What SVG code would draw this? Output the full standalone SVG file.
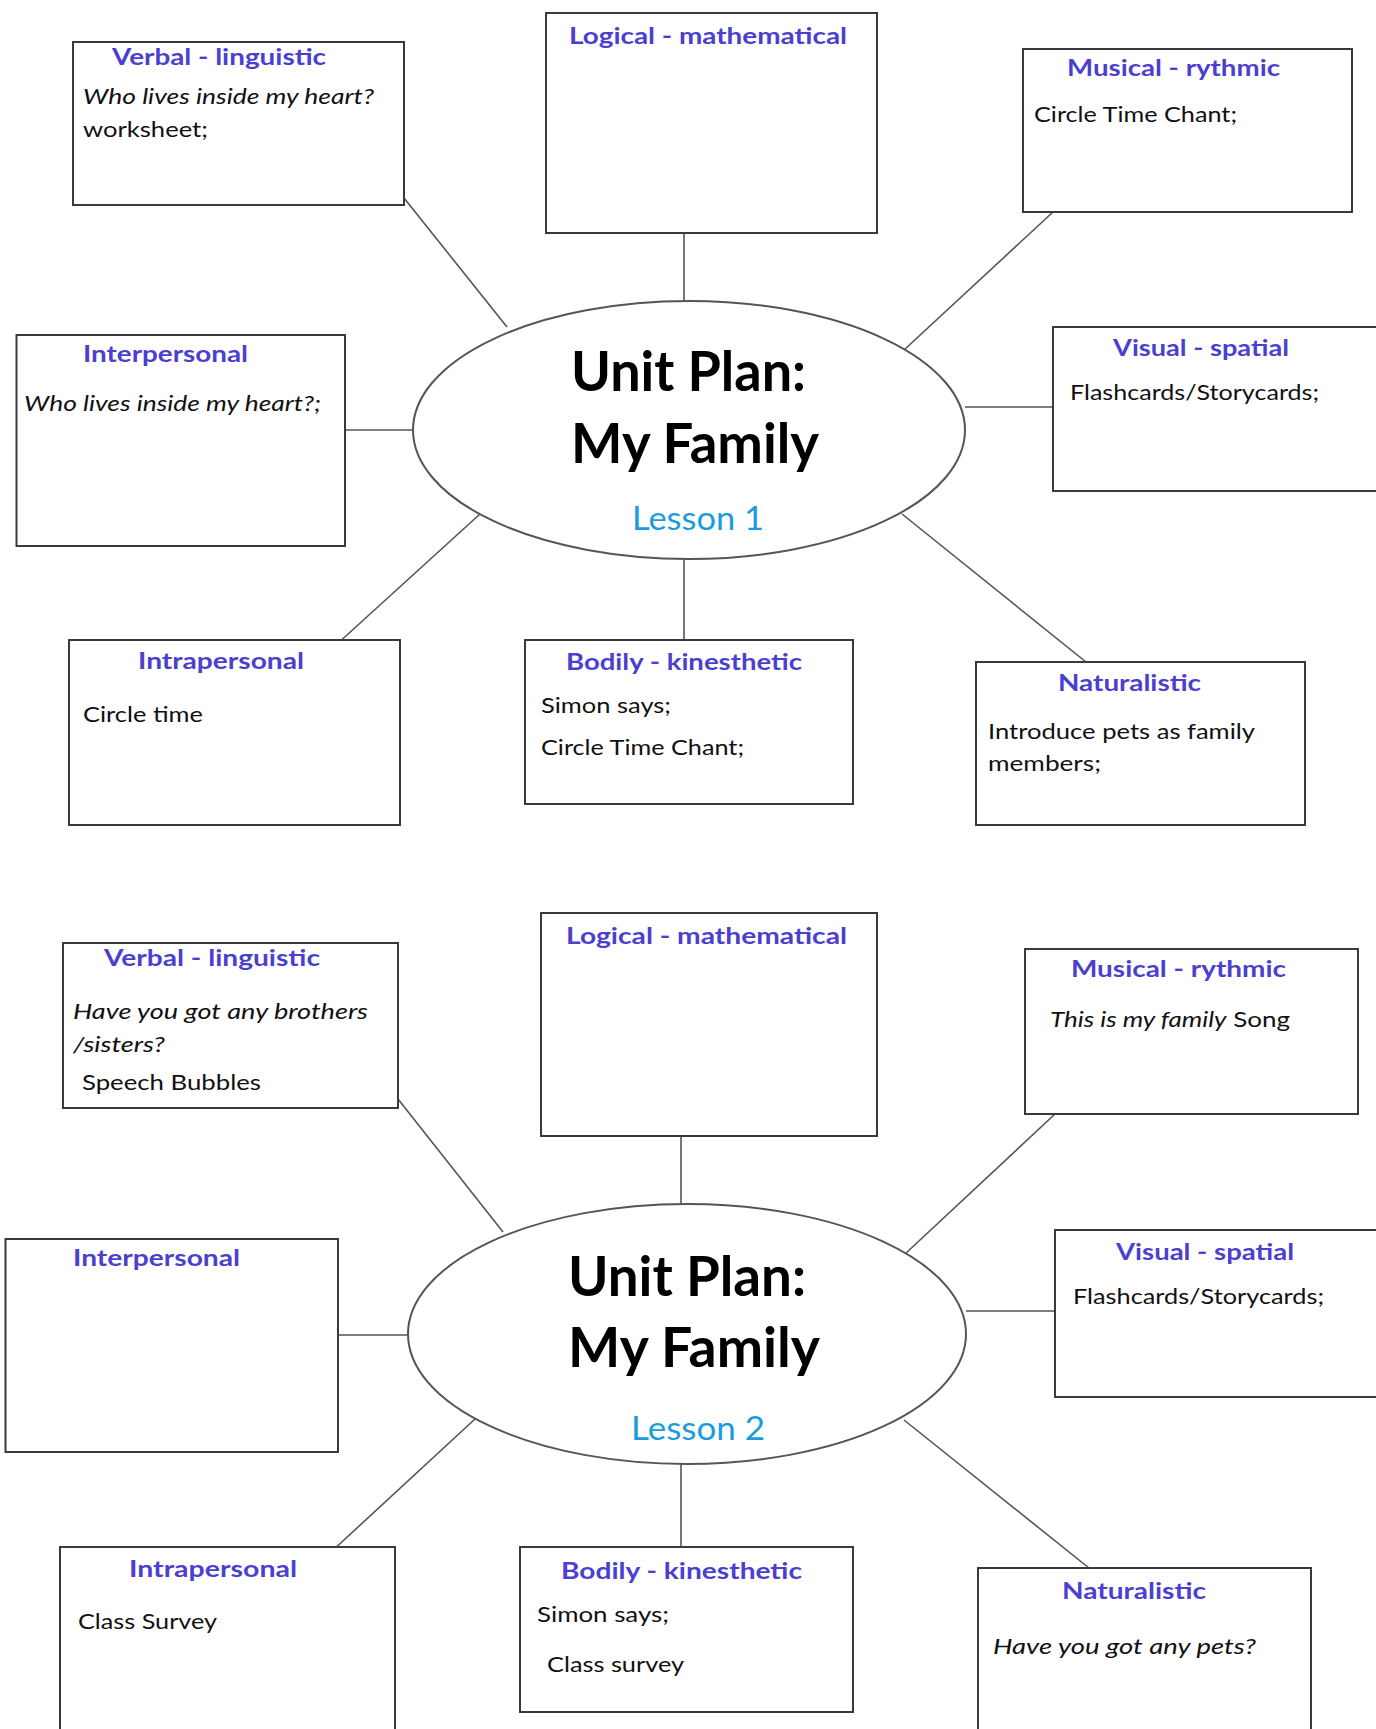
<svg xmlns="http://www.w3.org/2000/svg" width="1376" height="1729" viewBox="0 0 1376 1729">
<style>
.box{fill:#fff;stroke:#3a3a3a;stroke-width:2}
.hub{fill:#fff;stroke:#555;stroke-width:2}
.ln{stroke:#555;stroke-width:1.6;fill:none}
.t{font-family:Lato,"Open Sans","Liberation Sans",sans-serif;font-weight:bold;font-size:23px;fill:#4b3fd0}
.b{font-family:Lato,"Open Sans","Liberation Sans",sans-serif;font-size:22px;fill:#111}
.i{font-style:italic}
.c{font-family:Lato,"Open Sans","Liberation Sans",sans-serif;font-weight:bold;font-size:56px;fill:#000}
.l{font-family:Lato,"Open Sans","Liberation Sans",sans-serif;font-size:32px;fill:#1a9be0}
</style>
<rect width="1376" height="1729" fill="#fff"/>
<g id="connectors">
<line class="ln" x1="404" y1="198" x2="507" y2="327"/>
<line class="ln" x1="684" y1="233" x2="684" y2="301"/>
<line class="ln" x1="1053" y1="212" x2="904" y2="350"/>
<line class="ln" x1="345" y1="430" x2="413" y2="430"/>
<line class="ln" x1="965" y1="407" x2="1053" y2="407"/>
<line class="ln" x1="480" y1="514" x2="336" y2="645"/>
<line class="ln" x1="684" y1="559" x2="684" y2="640"/>
<line class="ln" x1="902" y1="514" x2="1086" y2="662"/>
<line class="ln" x1="398" y1="1099" x2="503" y2="1232"/>
<line class="ln" x1="681" y1="1136" x2="681" y2="1204"/>
<line class="ln" x1="1055" y1="1114" x2="905" y2="1254"/>
<line class="ln" x1="338" y1="1335" x2="408" y2="1335"/>
<line class="ln" x1="966" y1="1311" x2="1055" y2="1311"/>
<line class="ln" x1="475" y1="1419" x2="331" y2="1552"/>
<line class="ln" x1="681" y1="1464" x2="681" y2="1547"/>
<line class="ln" x1="904" y1="1420" x2="1089" y2="1568"/>
</g>
<g id="hub1">
<ellipse class="hub" cx="689" cy="430" rx="276" ry="129"/>
<text class="c" x="571" y="391" textLength="235" lengthAdjust="spacingAndGlyphs">Unit Plan:</text>
<text class="c" x="571" y="463" textLength="248" lengthAdjust="spacingAndGlyphs">My Family</text>
<text class="l" x="632" y="530" textLength="132" lengthAdjust="spacingAndGlyphs">Lesson 1</text>
</g>
<g id="verbal1">
<rect class="box" x="73" y="42" width="331" height="163"/>
<text class="t" x="112" y="65" textLength="214" lengthAdjust="spacingAndGlyphs">Verbal - linguistic</text>
<text class="b i" x="83" y="104" textLength="291" lengthAdjust="spacingAndGlyphs">Who lives inside my heart?</text>
<text class="b" x="83" y="137" textLength="125" lengthAdjust="spacingAndGlyphs">worksheet;</text>
</g>
<g id="logical1">
<rect class="box" x="546" y="13" width="331" height="220"/>
<text class="t" x="569" y="44" textLength="278" lengthAdjust="spacingAndGlyphs">Logical - mathematical</text>
</g>
<g id="musical1">
<rect class="box" x="1023" y="49" width="329" height="163"/>
<text class="t" x="1067" y="76" textLength="213" lengthAdjust="spacingAndGlyphs">Musical - rythmic</text>
<text class="b" x="1034" y="122" textLength="203" lengthAdjust="spacingAndGlyphs">Circle Time Chant;</text>
</g>
<g id="interpersonal1">
<rect class="box" x="16.5" y="335" width="328.5" height="211"/>
<text class="t" x="83" y="362" textLength="165" lengthAdjust="spacingAndGlyphs">Interpersonal</text>
<text class="b i" x="24" y="411" textLength="297" lengthAdjust="spacingAndGlyphs">Who lives inside my heart?;</text>
</g>
<g id="visual1">
<rect class="box" x="1053" y="327" width="340" height="164"/>
<text class="t" x="1113" y="356" textLength="176" lengthAdjust="spacingAndGlyphs">Visual - spatial</text>
<text class="b" x="1070" y="400" textLength="249" lengthAdjust="spacingAndGlyphs">Flashcards/Storycards;</text>
</g>
<g id="intrapersonal1">
<rect class="box" x="69" y="640" width="331" height="185"/>
<text class="t" x="138" y="669" textLength="166" lengthAdjust="spacingAndGlyphs">Intrapersonal</text>
<text class="b" x="83" y="722" textLength="120" lengthAdjust="spacingAndGlyphs">Circle time</text>
</g>
<g id="bodily1">
<rect class="box" x="525" y="640" width="328" height="164"/>
<text class="t" x="566" y="670" textLength="236" lengthAdjust="spacingAndGlyphs">Bodily - kinesthetic</text>
<text class="b" x="541" y="713" textLength="130" lengthAdjust="spacingAndGlyphs">Simon says;</text>
<text class="b" x="541" y="755" textLength="203" lengthAdjust="spacingAndGlyphs">Circle Time Chant;</text>
</g>
<g id="naturalistic1">
<rect class="box" x="976" y="662" width="329" height="163"/>
<text class="t" x="1058" y="691" textLength="143" lengthAdjust="spacingAndGlyphs">Naturalistic</text>
<text class="b" x="988" y="739" textLength="267" lengthAdjust="spacingAndGlyphs">Introduce pets as family</text>
<text class="b" x="988" y="771" textLength="113" lengthAdjust="spacingAndGlyphs">members;</text>
</g>
<g id="hub2">
<ellipse class="hub" cx="687" cy="1334" rx="279" ry="130"/>
<text class="c" x="568" y="1296" textLength="238" lengthAdjust="spacingAndGlyphs">Unit Plan:</text>
<text class="c" x="568" y="1367" textLength="252" lengthAdjust="spacingAndGlyphs">My Family</text>
<text class="l" x="631" y="1440" textLength="134" lengthAdjust="spacingAndGlyphs">Lesson 2</text>
</g>
<g id="verbal2">
<rect class="box" x="63" y="943" width="335" height="165"/>
<text class="t" x="104" y="966" textLength="216" lengthAdjust="spacingAndGlyphs">Verbal - linguistic</text>
<text class="b i" x="73" y="1019" textLength="295" lengthAdjust="spacingAndGlyphs">Have you got any brothers</text>
<text class="b i" x="73" y="1052" textLength="92" lengthAdjust="spacingAndGlyphs">/sisters?</text>
<text class="b" x="82" y="1090" textLength="179" lengthAdjust="spacingAndGlyphs">Speech Bubbles</text>
</g>
<g id="logical2">
<rect class="box" x="541" y="913" width="336" height="223"/>
<text class="t" x="566" y="944" textLength="281" lengthAdjust="spacingAndGlyphs">Logical - mathematical</text>
</g>
<g id="musical2">
<rect class="box" x="1025" y="949" width="333" height="165"/>
<text class="t" x="1071" y="977" textLength="215" lengthAdjust="spacingAndGlyphs">Musical - rythmic</text>
<text class="b" x="1050" y="1027" textLength="240" lengthAdjust="spacingAndGlyphs"><tspan class="i">This is my family</tspan> Song</text>
</g>
<g id="interpersonal2">
<rect class="box" x="5.5" y="1239" width="332.5" height="213"/>
<text class="t" x="73" y="1266" textLength="167" lengthAdjust="spacingAndGlyphs">Interpersonal</text>
</g>
<g id="visual2">
<rect class="box" x="1055" y="1230" width="340" height="167"/>
<text class="t" x="1116" y="1260" textLength="178" lengthAdjust="spacingAndGlyphs">Visual - spatial</text>
<text class="b" x="1073" y="1304" textLength="251" lengthAdjust="spacingAndGlyphs">Flashcards/Storycards;</text>
</g>
<g id="intrapersonal2">
<rect class="box" x="60" y="1547" width="335" height="200"/>
<text class="t" x="129" y="1577" textLength="168" lengthAdjust="spacingAndGlyphs">Intrapersonal</text>
<text class="b" x="78" y="1629" textLength="139" lengthAdjust="spacingAndGlyphs">Class Survey</text>
</g>
<g id="bodily2">
<rect class="box" x="520" y="1547" width="333" height="165"/>
<text class="t" x="561" y="1579" textLength="241" lengthAdjust="spacingAndGlyphs">Bodily - kinesthetic</text>
<text class="b" x="537" y="1622" textLength="132" lengthAdjust="spacingAndGlyphs">Simon says;</text>
<text class="b" x="547" y="1672" textLength="137" lengthAdjust="spacingAndGlyphs">Class survey</text>
</g>
<g id="naturalistic2">
<rect class="box" x="978" y="1568" width="333" height="180"/>
<text class="t" x="1062" y="1599" textLength="144" lengthAdjust="spacingAndGlyphs">Naturalistic</text>
<text class="b i" x="993" y="1654" textLength="263" lengthAdjust="spacingAndGlyphs">Have you got any pets?</text>
</g>
</svg>
